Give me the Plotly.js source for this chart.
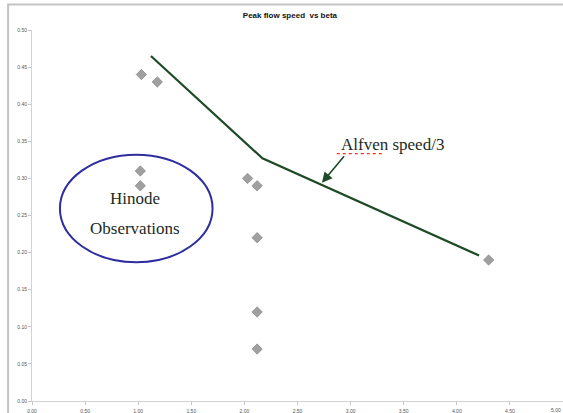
<!DOCTYPE html>
<html>
<head>
<meta charset="utf-8">
<script src="https://cdn.plot.ly/plotly-3.0.1.min.js"></script>
<style>html,body{margin:0;padding:0;background:#fff;}#chart{width:563px;height:413px;}</style>
</head>
<body>
<div id="chart"></div>
<script>
// Observed peak flow speeds (Hinode) vs beta
const betaObs  = [1.03, 1.18, 1.02, 1.02, 2.03, 2.12, 2.12, 2.12, 2.12, 4.30];
const speedObs = [0.44, 0.43, 0.31, 0.29, 0.30, 0.29, 0.22, 0.12, 0.07, 0.19];
// Alfven speed / 3 curve
const alfvenBeta  = [1.12, 2.17, 4.21];
const alfvenSpeed = [0.465, 0.327, 0.196];
const xTicks = [0, 0.5, 1, 1.5, 2, 2.5, 3, 3.5, 4, 4.5, 5];
const yTicks = [0, 0.05, 0.1, 0.15, 0.2, 0.25, 0.3, 0.35, 0.4, 0.45, 0.5];

const traces = [
  {x: alfvenBeta, y: alfvenSpeed, mode: 'lines', type: 'scatter',
   line: {color: '#1e4a26', width: 2.2}, hoverinfo: 'skip'},
  {x: betaObs, y: speedObs, mode: 'markers', type: 'scatter',
   marker: {symbol: 'diamond', size: 8, color: '#a0a0a0', line: {color: '#7c7c7c', width: 0.6}}}
];

const tickFont = {family: 'Liberation Sans, Arial, sans-serif', size: 5, color: '#555'};
const axisCommon = {
  showgrid: false, zeroline: false, showline: true, linecolor: '#d2d2d2', linewidth: 1,
  ticks: 'outside', ticklen: 3, tickcolor: '#c8c8c8', tickformat: '.2f',
  tickfont: tickFont, fixedrange: true
};

const layout = {
  width: 563, height: 413,
  margin: {l: 32, r: 0, t: 30, b: 12},
  paper_bgcolor: '#fff', plot_bgcolor: '#fff',
  showlegend: false,
  title: {text: '<b>Peak flow speed  vs beta</b>', x: 0.515, xanchor: 'center', y: 0.963, yanchor: 'middle',
          font: {family: 'Liberation Sans, Arial, sans-serif', size: 8, color: '#111'}},
  xaxis: Object.assign({}, axisCommon, {range: [0, 5], tickvals: xTicks, ticklabelstandoff: 2}),
  yaxis: Object.assign({}, axisCommon, {range: [0, 0.5], tickvals: yTicks}),
  shapes: [
    {type: 'rect', xref: 'paper', yref: 'paper', x0: -0.045, x1: 1.2, y0: -0.2, y1: 1.069,
     line: {color: '#c4c4c4', width: 2}, layer: 'below'},
    {type: 'circle', xref: 'x', yref: 'y', x0: 0.263, x1: 1.70, y0: 0.187, y1: 0.332,
     line: {color: '#2e2e9e', width: 2}},
    {type: 'line', xref: 'x', yref: 'y', x0: 2.87, x1: 3.31, y0: 0.3335, y1: 0.3335,
     line: {color: '#ff2a2a', width: 1.2, dash: 'dot'}}
  ],
  annotations: [
    {x: 5, y: 0, xref: 'x', yref: 'y', xanchor: 'right', yanchor: 'middle', yshift: -8.5, text: '5.00', showarrow: false, font: tickFont},
    {x: 0.97, y: 0.2735, xref: 'x', yref: 'y', text: 'Hinode', showarrow: false,
     font: {family: 'Liberation Serif, DejaVu Serif, serif', size: 17, color: '#1c2a1c'}},
    {x: 0.97, y: 0.233, xref: 'x', yref: 'y', text: 'Observations', showarrow: false,
     font: {family: 'Liberation Serif, DejaVu Serif, serif', size: 17, color: '#1c2a1c'}},
    {x: 3.39, y: 0.346, xref: 'x', yref: 'y', text: 'Alfven speed/3', showarrow: false,
     font: {family: 'Liberation Serif, DejaVu Serif, serif', size: 17, color: '#1c2a1c'}},
    {x: 2.73, y: 0.294, xref: 'x', yref: 'y', ax: 2.95, ay: 0.332, axref: 'x', ayref: 'y',
     text: '', showarrow: true, arrowhead: 2, arrowsize: 1.3, arrowwidth: 1.6, arrowcolor: '#1e4a26'}
  ]
};

Plotly.newPlot('chart', traces, layout, {displayModeBar: false, staticPlot: true});
</script>
</body>
</html>
